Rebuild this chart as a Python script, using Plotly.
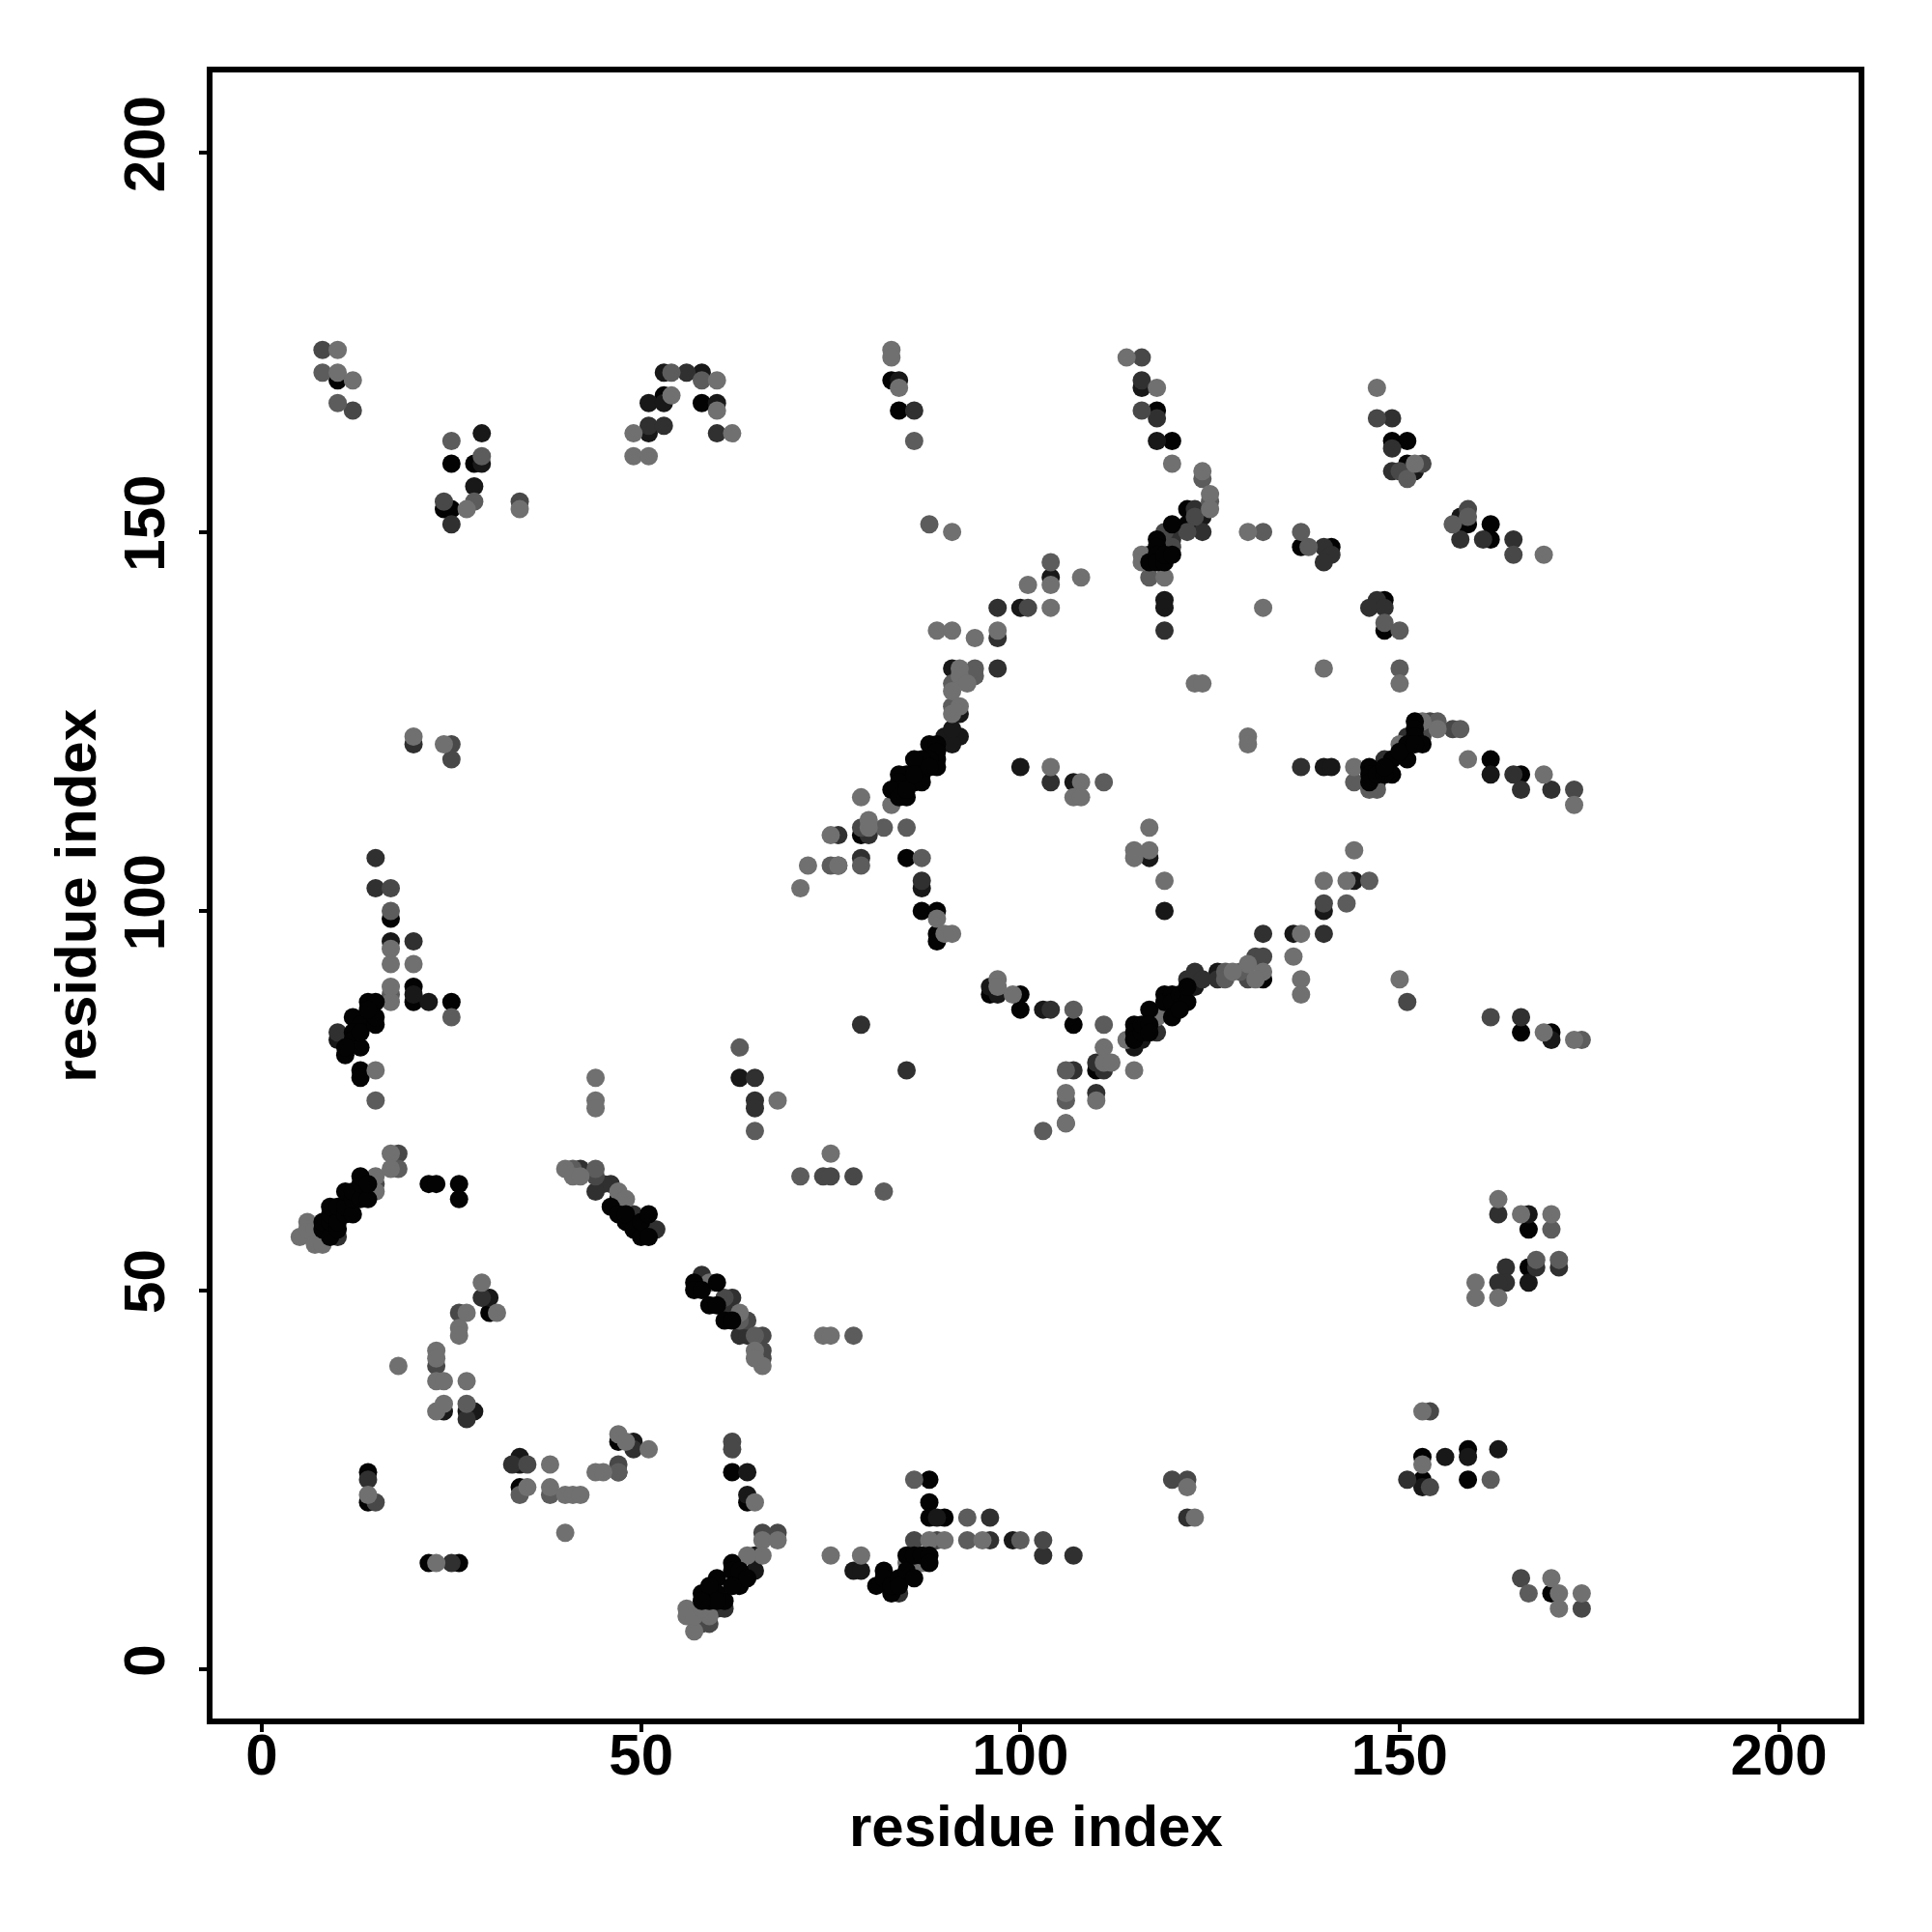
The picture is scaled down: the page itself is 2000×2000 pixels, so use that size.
import plotly.graph_objects as go

tick_values = [0, 50, 100, 150, 200]
axis_title = "residue index"

# contacts grouped by grey level (i, j)
level_0_band = [(8,58),(8,59),(9,57),(9,59),(9,60),(9,61),(10,58),(10,59),(10,61),(11,60),(11,61),(11,63),(12,60),(12,62),(12,63),(13,62),(13,64),(13,65),(14,62),(14,64),
 (46,61),(47,60),(48,59),(48,60),(49,58),(50,57),(50,59),(51,57),(51,60),(57,51),(57,50),(58,50),(60,51),(59,48),(60,48),(61,46),(62,46),
 (60,12),(61,9),(58,10),(60,10),(59,9),(59,11),(62,14),(62,13),(63,11),(63,13),(64,12),(60,9),(58,9),(62,11),
 (81,11),(82,13),(82,12),(83,10),(83,11),(84,12),(84,11),(85,15),(85,13),(86,12),(86,15),(87,15),(88,15),(88,14),
 (12,86),(13,85),(12,84),(12,83),(11,81),(13,82),(11,82),(13,84),(14,88),(15,88),(15,85),(15,86),(14,87),
 (120,151),(118,149),(118,148),(117,146),(118,147),(118,146),(119,146),(119,147),(120,147),
 (88,122),(89,122),(89,120),(89,119),(89,121),(88,120),(87,120),(86,120),(87,118),(86,117),(87,117),(85,118),(84,118),(84,117),(84,116),(83,116),(85,115),(84,115),(85,116),(86,118),(88,119),
 (115,85),(115,84),(115,83),(116,84),(116,85),(117,87),(117,85),(117,84),(119,89),(119,88),(120,89),(120,88),(120,86),(121,89),(122,88),(121,87),(122,90),
 (146,119),(146,118),(146,117),(147,118),(149,120),(149,118),(148,118),(151,120),(152,125),(152,124),(152,123),(151,122),(153,122),(150,121),(152,122),(148,119)]

level_0 = [(22,64),(23,64),(26,64),(26,62),(47,62),(30,47),(47,30),(34,24),(14,26),(14,22),(22,14),(26,14),(62,26),(64,22),
 (167,58),(167,53),(153,28),(159,29),(153,25),(159,25),(170,10),(88,25),(88,22),(88,20),(90,20),
 (10,170),(25,159),(28,159),(24,153),(25,153),(53,168),(58,167),
 (17,99),(20,90),(20,88),(25,88),(13,79),(13,78),
 (83,170),(84,166),(118,166),(120,162),(122,153),(122,151),
 (79,110),(85,107),(87,100),(89,100),(89,97),(89,96),(96,89),(100,89),(100,87),(107,85),(110,79),
 (162,120),(166,118),(132,91),(166,84),(170,84),(149,162),(151,162),(151,159),(158,151),(159,151),(162,151),(162,149),(137,148),(141,148),(148,141),(148,137)]

level_1 = [(50,58),(49,59),(34,28),(34,27),(24,34),(27,34),(28,34),(30,49),(49,30),(64,26),(64,23),(65,13),(65,15),
 (167,60),(167,51),(156,28),(153,24),(159,28),(163,29),(78,13),(79,13),(89,20),(99,17),
 (29,163),(29,159),(28,156),(17,96),(20,89),(22,88),(53,171),(58,171),(51,167),(53,167),(60,167),(51,163),(10,83),
 (63,78),(84,170),(104,144),(100,140),(91,132),(92,126),(90,123),(92,123),(91,122),(91,124),(116,169),(118,162),(119,141),(119,140),(124,152),(117,147),
 (100,119),(107,117),(117,107),(119,100),(87,103),(96,90),(97,89),(103,87),(115,82),(116,83),(123,90),
 (140,119),(141,119),(147,117),(170,83),(158,152),(162,118),(136,97),(126,92),(144,104),(140,100),(151,158),(152,158)]

level_2 = [(9,58),(10,57),(46,64),(45,64),(42,66),(44,63),(58,52),(62,49),(62,47),(63,44),(64,44),(49,60),(52,58),
 (29,49),(27,33),(49,29),(47,26),(33,27),(25,14),(14,25),(61,8),(59,8),(60,8),
 (163,60),(171,53),(168,53),(164,53),(164,51),(163,51),(151,25),(122,20),(96,20),(103,15),(107,15),(96,17),(84,10),
 (56,171),(51,164),(53,164),(60,163),(25,151),(20,122),(15,107),(15,103),(20,96),(65,78),(65,75),(65,74),(10,84),
 (97,140),(97,136),(97,132),(76,110),(76,106),(86,166),(116,170),(118,165),(119,137),(120,150),(124,150),(120,149),(123,153),
 (104,117),(79,107),(80,110),(87,104),(79,85),(85,79),(104,87),(107,79),(111,79),(110,80),(110,76),(118,84),(122,91),(123,92),(124,91),
 (137,119),(165,118),(166,116),(170,116),(166,86),(132,97),(140,97),(126,91),
 (147,141),(146,140),(148,140),(149,165),(149,161),(149,158),(158,149),(161,149),(165,149),(140,148),(141,147),(140,146),(151,123),(148,120)]

level_3 = [(18,68),(44,65),(66,44),(66,42),(66,41),(64,46),(61,49),(26,47),(23,40),(35,27),(47,27),(15,22),(62,30),(62,29),(66,18),(68,18),(59,6),(58,6),
 (78,65),(74,65),(75,65),(154,34),(154,24),(120,25),(122,25),(166,12),(174,8),(103,17),(86,17),
 (8,174),(12,166),(24,154),(34,154),(25,122),(25,120),(17,103),(15,64),(89,17),
 (101,140),(116,173),(116,166),(120,148),(123,152),(122,150),(79,111),(140,101),(131,94),(132,94),(130,91),
 (119,150),(153,123),(154,125),(157,124),(159,153),(147,165),(165,147),(173,116),(151,88),(162,86),(153,159),(150,158)]

level_4 = [(18,66),(41,66),(44,66),(65,44),(63,46),(27,35),(34,23),(38,23),(47,26),(86,25),(78,44),(82,63),(71,65),(93,20),(93,17),
 (167,10),(162,25),(170,58),(168,54),(171,54),(100,17),(103,71),(106,72),(65,71),(63,82),
 (8,171),(10,167),(25,162),(28,154),(29,160),(54,171),(58,170),(25,86),(17,100),(17,89),(15,75),(14,86),
 (86,162),(88,151),(104,146),(94,131),(94,132),(91,130),(91,127),(124,157),(125,154),(117,144),(138,148),(79,106),(111,117),(82,111),(85,111),(75,106),(87,107),(106,79),(106,75),(107,87),(111,85),
 (144,117),(147,116),(146,116),(155,125),(158,124),(174,83),(127,92),(127,91),(129,92),(146,104),(143,101),(148,138),(150,137),(132,150),(137,150),(150,132),(159,152),(157,151),(151,157)]

level_5 = [(5,57),(6,59),(6,58),(7,56),(8,56),(7,58),(15,65),(15,63),(17,68),(17,66),(40,66),(41,65),(42,65),(47,63),(48,62),(59,51),(63,47),(65,42),(65,41),(66,40),
 (29,51),(31,47),(27,47),(26,45),(26,44),(23,42),(23,41),(18,40),(23,38),(24,38),(27,38),(23,34),(24,35),
 (47,31),(48,30),(51,29),(38,27),(35,24),(38,24),(40,23),(41,23),(42,23),(40,18),(44,26),(45,26),(14,23),(23,14),(65,22),
 (66,17),(68,17),(66,15),(64,15),(57,5),(56,8),(56,7),(59,7),(57,7),(58,8),
 (75,68),(74,44),(75,44),(163,62),(166,60),(170,60),(160,51),(160,49),(163,49),(153,34),(153,27),(122,24),(123,20),(170,12),(171,10),(171,8),(174,10),
 (75,15),(79,15),(88,17),(90,17),(95,17),(87,14),(85,14),
 (10,174),(10,171),(12,170),(27,153),(34,153),(54,168),(60,170),(60,166),(62,163),(49,163),(49,160),(51,160),(20,123),(24,122),
 (17,95),(17,93),(20,93),(17,90),(17,88),(15,79),(44,78),(44,75),(44,74),(68,75),(71,103),(72,106),(76,106),(75,110),(83,174),(83,173),(84,169),(91,150),(104,143),(108,144),(101,143),(104,140),
 (97,137),(89,137),(91,137),(94,136),(92,132),(92,131),(93,130),(91,129),(92,127),(91,126),(114,173),(118,169),(120,159),(124,158),(125,155),(125,153),(116,147),(116,146),(119,144),(123,130),(124,130),
 (104,119),(108,117),(107,115),(108,115),(79,115),(83,114),(80,112),(80,111),(117,111),(115,108),(117,108),(115,107),(119,104),(89,99),(90,97),(91,97),
 (97,91),(97,90),(99,89),(111,82),(114,83),(111,80),(112,80),(115,79),(106,76),(110,75),(106,72),
 (130,123),(130,122),(144,119),(150,122),(153,125),(155,124),(159,120),(169,118),(173,114),(144,108),(140,104),(143,104),(137,97),(136,94),(130,93),(132,92),(131,91),(137,91),(137,89),
 (150,91),(169,84),(173,83),(147,169),(169,147),(130,150),(132,140),(150,130),(140,132),(152,159),(118,86),(119,87),(128,92)]

level_colors = ["#030303", "#181818", "#303030", "#484848", "#5c5c5c", "#707070"]
groups = [(level_0, 0), (level_1, 1), (level_2, 2), (level_3, 3), (level_4, 4), (level_5, 5), (level_0_band, 0)]

fig = go.Figure()
for pts, k in groups:
    fig.add_trace(go.Scatter(x=[p[0] for p in pts], y=[p[1] for p in pts], mode="markers",
                             marker=dict(color=level_colors[k], size=19, line=dict(width=0)),
                             showlegend=False, hoverinfo="skip"))

tick_font = dict(family="Liberation Sans", size=60, color="black", weight="bold")
axis_common = dict(tickmode="array", tickvals=tick_values, ticks="outside", ticklen=8,
                   tickwidth=4, tickcolor="black", showgrid=False, zeroline=False, showline=True,
                   linecolor="black", linewidth=6, mirror=True, tickfont=tick_font)
fig.update_xaxes(**axis_common, range=[-6.5, 210.5], ticklabelstandoff=-28)
fig.update_yaxes(**axis_common, range=[-6.5, 210.6], tickangle=-90, ticklabelstandoff=12)
fig.update_layout(width=2000, height=2000, autosize=False, plot_bgcolor="white", paper_bgcolor="white",
                  margin=dict(l=212, r=84, t=67, b=229), font=dict(family="Liberation Sans", color="black", size=60))
title_font = dict(family="Liberation Sans", size=60, color="black", weight="bold")
fig.add_annotation(text=axis_title, xref="paper", yref="paper", x=0.5, y=-0.0654, xanchor="center", yanchor="middle",
                   showarrow=False, font=title_font)
fig.add_annotation(text=axis_title, xref="paper", yref="paper", x=-0.0835, y=0.5, xanchor="center", yanchor="middle",
                   textangle=-90, showarrow=False, font=title_font)
fig.write_html("out.html")
